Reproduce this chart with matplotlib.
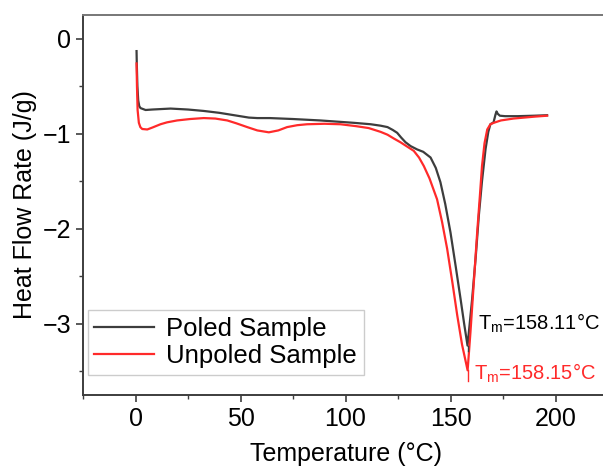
import matplotlib
matplotlib.use("Agg")
import matplotlib.pyplot as plt
from matplotlib.ticker import MultipleLocator

plt.rcParams['font.family'] = ['Liberation Sans', 'DejaVu Sans']
plt.rcParams['mathtext.default'] = 'regular'

# DSC traces
poled_T = [0.5, 0.6, 0.9, 1.3, 1.8, 2.4, 4.8, 8, 16.7, 25, 32.5, 40, 48.4, 54,
           58, 64, 75, 88, 104, 112, 116.7, 120, 122.5, 124.6, 126.5, 128.6, 131,
           134.1, 137, 140.5, 143, 145.2, 147.5, 150, 152.5, 154.8, 156.5, 158.11,
           160.3, 162, 163.5, 165, 166.7, 168, 169, 170.5, 171.4, 171.9, 172.5,
           173.5, 176, 182, 190, 196]
poled_Q = [-0.13, -0.25, -0.5, -0.65, -0.71, -0.73, -0.75, -0.745, -0.735, -0.745,
           -0.76, -0.78, -0.81, -0.83, -0.835, -0.835, -0.845, -0.86, -0.885, -0.9,
           -0.915, -0.93, -0.96, -0.99, -1.04, -1.09, -1.13, -1.165, -1.19, -1.25,
           -1.36, -1.51, -1.74, -2.04, -2.4, -2.74, -3.0, -3.23, -2.74, -2.3, -1.86,
           -1.5, -1.16, -0.98, -0.9, -0.88, -0.8, -0.765, -0.79, -0.81, -0.815,
           -0.815, -0.81, -0.805]

unpoled_T = [0.5, 0.7, 1.0, 1.6, 2.3, 3.2, 5.6, 8, 11.9, 15, 19.8, 26, 32.5, 38,
             43.7, 48, 53.2, 58, 63.5, 68, 72.2, 77, 81.7, 90, 97.6, 105, 111,
             116.7, 120, 123, 126.2, 129, 132.5, 135, 137.3, 140, 143.6, 146, 148.4,
             151, 153.2, 155.5, 158.15, 159.5, 161, 162.7, 164, 165, 166.2, 167.5,
             169, 170.6, 174, 180, 190, 196]
unpoled_Q = [-0.26, -0.5, -0.75, -0.885, -0.93, -0.95, -0.955, -0.935, -0.9, -0.88,
             -0.86, -0.845, -0.835, -0.84, -0.86, -0.89, -0.93, -0.965, -0.985,
             -0.965, -0.93, -0.91, -0.9, -0.895, -0.9, -0.92, -0.94, -0.98, -1.01,
             -1.05, -1.09, -1.13, -1.18, -1.25, -1.34, -1.47, -1.69, -1.93, -2.21,
             -2.58, -2.91, -3.22, -3.49, -3.09, -2.6, -2.04, -1.65, -1.34, -1.1,
             -0.955, -0.9, -0.885, -0.86, -0.84, -0.82, -0.81]

tm_poled = 158.11
tm_unpoled = 158.15

black = '#3d3d3d'
red = '#ff2a2a'

fig = plt.figure(figsize=(6.03, 4.74), dpi=100)
ax = fig.add_axes([83 / 603, 79 / 474, 525 / 603, 380 / 474])

ax.plot(poled_T, poled_Q, color=black, lw=1.6, label='Poled Sample')
ax.plot(unpoled_T, unpoled_Q, color=red, lw=1.6, label='Unpoled Sample')

# little drop marks at the peak minima
ax.plot([tm_poled, tm_poled], [min(poled_Q), min(poled_Q) - 0.06], color=black, lw=1.0)
ax.plot([tm_unpoled, tm_unpoled], [min(unpoled_Q), min(unpoled_Q) - 0.11], color=red, lw=1.0)

ax.text(162.9, -3.064, 'T$_m$=158.11°C', color='black', fontsize=14.5, va='baseline')
ax.text(161.0, -3.59, 'T$_m$=158.15°C', color=red, fontsize=14.5, va='baseline')

ax.set_xlim(-25, 225)
ax.set_ylim(-3.75, 0.25)
ax.xaxis.set_major_locator(MultipleLocator(50))
ax.xaxis.set_minor_locator(MultipleLocator(25))
ax.yaxis.set_major_locator(MultipleLocator(1))
ax.yaxis.set_minor_locator(MultipleLocator(0.5))
ax.tick_params(which='major', direction='out', length=5, width=1.2, labelsize=18, color=black)
ax.tick_params(which='minor', direction='out', length=3, width=1.0, color=black)
ax.set_yticks([0, -1, -2, -3])
ax.set_yticklabels(['0', '\u22121', '\u22122', '\u22123'])

for s in ['left', 'bottom']:
    ax.spines[s].set_color(black)
    ax.spines[s].set_linewidth(1.4)
ax.spines['top'].set_color('#777777')
ax.spines['top'].set_linewidth(1.4)
ax.spines['right'].set_visible(False)

ax.set_xlabel('Temperature (°C)', fontsize=18, labelpad=8)
ax.set_ylabel('Heat Flow Rate (J/g)', fontsize=18, labelpad=4)

leg = ax.legend(loc='lower left', bbox_to_anchor=(0.0095, 0.053), borderaxespad=0,
                fontsize=18.5, fancybox=False, framealpha=1, edgecolor='#cccccc',
                handlelength=2.3, handletextpad=0.5, labelspacing=0.15, borderpad=0.25)
leg.get_frame().set_linewidth(1.0)

fig.savefig('out.png', dpi=100)
